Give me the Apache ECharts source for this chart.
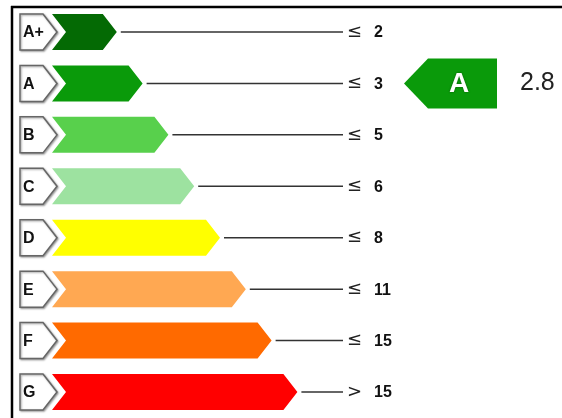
<!DOCTYPE html>
<html><head><meta charset="utf-8">
<script src="https://cdn.jsdelivr.net/npm/echarts@6/dist/echarts.min.js"></script>
<style>html,body{margin:0;padding:0;background:#fff}#c{width:562px;height:418px}</style>
</head><body><div id="c"></div>
<script>
var categories = ['A+', 'A', 'B', 'C', 'D', 'E', 'F', 'G'];
var barLevels = [1, 2, 3, 4, 5, 6, 7, 8];
var thresholdSigns = ['≤', '≤', '≤', '≤', '≤', '≤', '≤', '>'];
var thresholdValues = ['2', '3', '5', '6', '8', '11', '15', '15'];
var barColors = ['#046a04', '#0a9a0a', '#58d04c', '#9de2a0', '#ffff00', '#ffa852', '#ff6a00', '#ff0000'];
var ratingClass = 'A';
var ratingValue = 2.8;

var chart = echarts.init(document.getElementById('c'));
var data = categories.map(function (c, i) { return [barLevels[i], c, i]; });

function renderBar(params, api) {
  var i = api.value(2);
  var tip = api.coord([api.value(0), api.value(1)]);
  var cy = tip[1], tx = tip[0];
  var h = 18, x0 = 52, notch = 14, tipD = 14, lineEnd = 343;
  var top = cy - h, bot = cy + h;
  return {
    type: 'group',
    children: [
      { type: 'polygon', shape: { points: [[20, top], [43, top], [57, cy], [43, bot], [20, bot]] },
        style: { fill: '#fff', stroke: '#666', lineWidth: 1.5, shadowColor: 'rgba(0,0,0,0.35)', shadowBlur: 2, shadowOffsetX: 1, shadowOffsetY: 1 } },
      { type: 'text', style: { x: 23, y: cy + 1, text: categories[i], fontFamily: 'Liberation Sans', fontWeight: 'bold', fontSize: 16, fill: '#111', verticalAlign: 'middle', align: 'left' } },
      { type: 'polygon', shape: { points: [[x0, top], [tx - tipD, top], [tx, cy], [tx - tipD, bot], [x0, bot], [x0 + notch, cy]] },
        style: { fill: barColors[i] } },
      { type: 'line', shape: { x1: tx + 4, y1: cy, x2: lineEnd, y2: cy }, style: { stroke: '#333', lineWidth: 1.5 } },
      { type: 'text', style: { x: 347, y: cy, text: thresholdSigns[i], fontFamily: 'DejaVu Sans', fontSize: 18, fill: '#222', verticalAlign: 'middle', align: 'left' } },
      { type: 'text', style: { x: 374, y: cy + 1, text: thresholdValues[i], fontFamily: 'Liberation Sans', fontWeight: 'bold', fontSize: 16, fill: '#111', verticalAlign: 'middle', align: 'left' } }
    ]
  };
}

function renderIndicator(params, api) {
  var p = api.coord([0, api.value(0)]);
  var cy = p[1];
  var h = 25;
  return {
    type: 'group',
    children: [
      { type: 'polygon', shape: { points: [[404, cy], [428, cy - h], [497, cy - h], [497, cy + h], [428, cy + h]] },
        style: { fill: barColors[categories.indexOf(ratingClass)] } },
      { type: 'text', style: { x: 459, y: cy + 1, text: ratingClass, fontFamily: 'Liberation Sans', fontWeight: 'bold', fontSize: 28, fill: '#fff', align: 'center', verticalAlign: 'middle', textShadowColor: 'rgba(0,0,0,0.5)', textShadowBlur: 2 } },
      { type: 'text', style: { x: 520, y: cy, text: String(api.value(1)), fontFamily: 'Liberation Sans', fontSize: 25, fill: '#222', align: 'left', verticalAlign: 'middle' } }
    ]
  };
}

chart.setOption({
  animation: false,
  backgroundColor: '#fff',
  grid: { left: 91, right: 6.6, top: 6.3, bottom: 0.3 },
  xAxis: { type: 'value', min: 0, max: 18, show: false },
  yAxis: { type: 'category', data: categories, inverse: true, show: false },
  graphic: [
    { type: 'line', shape: { x1: 11, y1: 7, x2: 562, y2: 7 }, style: { stroke: '#000', lineWidth: 2.5 } },
    { type: 'line', shape: { x1: 12, y1: 6, x2: 12, y2: 418 }, style: { stroke: '#000', lineWidth: 2.5 } }
  ],
  series: [
    { type: 'custom', renderItem: renderBar, data: data, encode: { x: 0, y: 1 } },
    { type: 'custom', renderItem: renderIndicator, data: [[ratingClass, ratingValue]], encode: { y: 0 } }
  ]
});
</script></body></html>
